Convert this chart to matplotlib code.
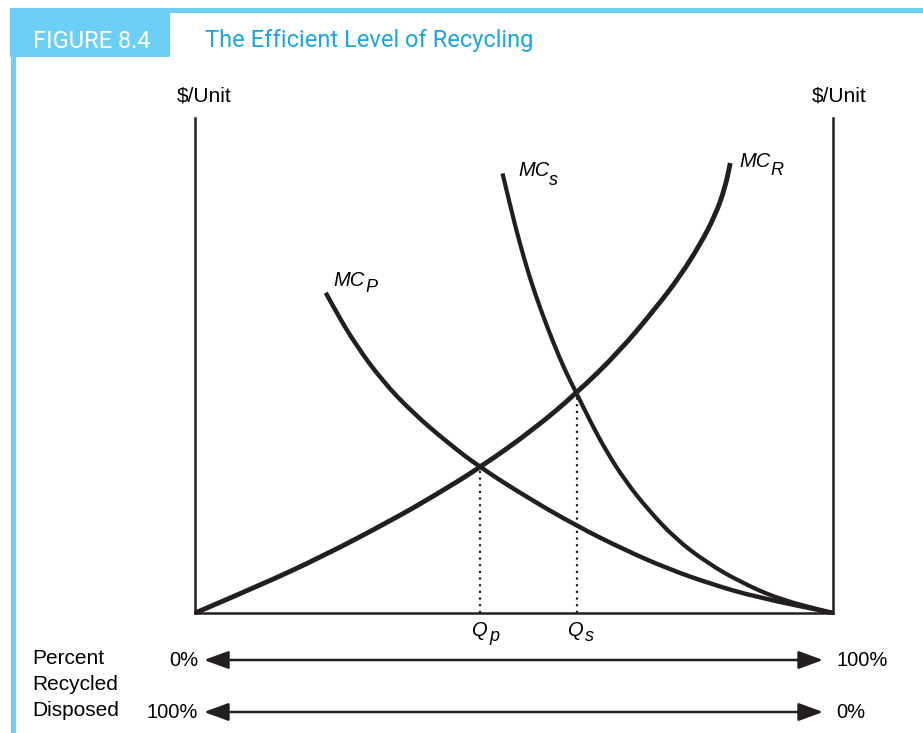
import matplotlib
matplotlib.use("Agg")
from matplotlib import pyplot as plt
from matplotlib import font_manager
from matplotlib.patches import Rectangle, FancyArrowPatch, ArrowStyle, PathPatch
from matplotlib.path import Path

# curves, x = percent recycled (0..100), y = $/unit (0..100)
mcr_x = [0, 9.7, 20.1, 30.6, 37.4, 44.7, 53.0, 59.8, 66.5, 72.4, 76.0, 79.2, 81.6, 83.1, 83.9]
mcr_y = [0, 5.3, 11.5, 18.6, 23.6, 29.4, 37.0, 44.4, 52.8, 61.9, 68.0, 74.5, 80.5, 86.0, 90.9]

mcp_x = [20.5, 22.2, 25.3, 29.3, 34.0, 39.7, 44.7, 52.0, 59.8, 67.1, 74.0, 81.0, 88.0, 100]
mcp_y = [64.7, 60.6, 54.0, 47.0, 40.6, 34.3, 29.4, 23.4, 17.6, 12.9, 9.0, 5.8, 3.2, 0]

mcs_x = [48.2, 49.4, 50.8, 52.4, 54.2, 56.2, 58.0, 59.8, 62.0, 64.5, 67.5, 71.0, 75.3,
         80.2, 85.4, 91.7, 100]
mcs_y = [88.8, 82.3, 75.2, 68.0, 61.2, 54.5, 49.0, 44.4, 38.6, 32.6, 26.6, 20.9, 15.0,
         10.2, 6.3, 2.7, 0]

q_x = [44.7, 59.8]
q_y = [29.4, 44.4]

W, H = 923, 733
blue = "#6DCFF6"
title_blue = "#1BA6E2"
ink = "#231f20"

names = {f.name for f in font_manager.fontManager.ttflist}
narrow = "Liberation Sans Narrow" if "Liberation Sans Narrow" in names else "Roboto"

plt.rcParams["font.family"] = ["Liberation Sans", "DejaVu Sans"]

fig = plt.figure(figsize=(W / 100, H / 100), dpi=100)


def fx(px):
    return px / W


def fy(py):
    return 1 - py / H


def smooth(ax, xs, ys, lw):
    # quadratic pieces through the midpoints of the read points
    verts = [(xs[0], ys[0])]
    codes = [Path.MOVETO]
    for i in range(1, len(xs) - 1):
        verts += [(xs[i], ys[i]), ((xs[i] + xs[i + 1]) / 2, (ys[i] + ys[i + 1]) / 2)]
        codes += [Path.CURVE3, Path.CURVE3]
    verts.append((xs[-1], ys[-1]))
    codes.append(Path.LINETO)
    ax.add_patch(PathPatch(Path(verts, codes), fill=False, lw=lw, ec=ink,
                           capstyle="butt", clip_on=False))


def label(px, base, main, spx, sbase, sub, size, sub_size):
    fig.text(fx(px), fy(base), main, fontsize=size, style="italic", ha="left", va="baseline")
    fig.text(fx(spx), fy(sbase), sub, fontsize=sub_size, style="italic", ha="left",
             va="baseline")


# frame and header
fig.patches.append(Rectangle((fx(10), fy(13)), fx(913), 5 / H, transform=fig.transFigure,
                             color=blue, lw=0))
fig.patches.append(Rectangle((fx(10), fy(57)), fx(160), 49 / H, transform=fig.transFigure,
                             color=blue, lw=0))
fig.patches.append(Rectangle((fx(11), 0), fx(5), fy(57), transform=fig.transFigure,
                             color=blue, lw=0))
fig.text(fx(33), fy(41), "FIGURE 8.4", color="white", fontsize=17, family=narrow,
         va="center", ha="left")
fig.text(fx(205), fy(41), "The Efficient Level of Recycling", color=title_blue, fontsize=17,
         family=narrow, va="center", ha="left")

ax = fig.add_axes([fx(195), fy(613), 638 / W, 495 / H])
ax.set_xlim(0, 100)
ax.set_ylim(0, 100)
ax.set_xticks([])
ax.set_yticks([])
ax.spines["top"].set_visible(False)
for s in ["left", "right", "bottom"]:
    ax.spines[s].set_linewidth(1.8)
    ax.spines[s].set_color(ink)
ax.patch.set_alpha(0)

smooth(ax, mcr_x, mcr_y, 3.5)
smooth(ax, mcp_x, mcp_y, 3.2)
smooth(ax, mcs_x, mcs_y, 3.0)
ax.vlines(q_x, 0, q_y, colors=ink, linestyles=(0, (1, 2)), lw=1.6)

label(333, 286, "MC", 365, 292, "P", 14.5, 13)
label(518, 176, "MC", 549, 185, "s", 14.5, 13)
label(739, 167, "MC", 770, 175, "R", 14.5, 13)
label(472, 636, "Q", 489, 641, "p", 14.5, 13)
label(568, 636, "Q", 585, 641, "s", 14.5, 13)

fig.text(fx(177), fy(96), "$/Unit", fontsize=15, ha="left", va="center")
fig.text(fx(812), fy(96), "$/Unit", fontsize=15, ha="left", va="center")

# bottom scales
style = ArrowStyle("<|-|>", head_length=1.5, head_width=0.55)
for py, left, right in [(660, "0%", "100%"), (712, "100%", "0%")]:
    fig.patches.append(FancyArrowPatch((fx(204), fy(py)), (fx(823), fy(py)),
                                       transform=fig.transFigure, arrowstyle=style,
                                       mutation_scale=10, lw=1.8, color=ink,
                                       shrinkA=0, shrinkB=0))
    fig.text(fx(198), fy(py), left, fontsize=14.5, ha="right", va="center")
    fig.text(fx(836), fy(py), right, fontsize=14.5, ha="left", va="center")

fig.text(fx(32), fy(658), "Percent", fontsize=15, ha="left", va="center")
fig.text(fx(32), fy(684), "Recycled", fontsize=15, ha="left", va="center")
fig.text(fx(32), fy(711), "Disposed", fontsize=15, ha="left", va="center")

fig.savefig("out.png", dpi=100)
